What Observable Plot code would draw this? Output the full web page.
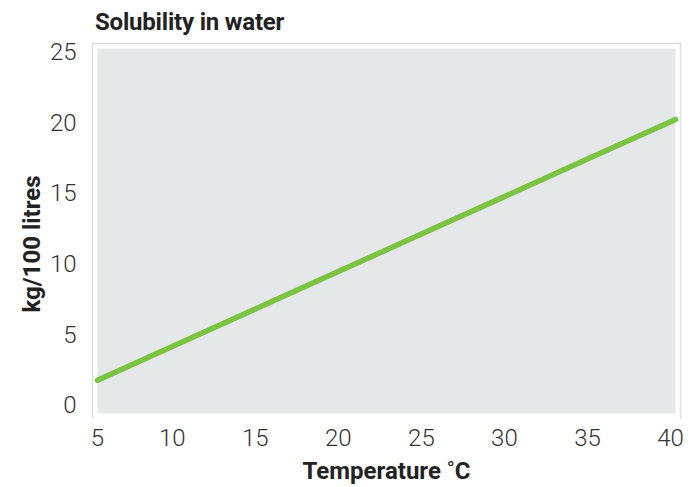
<!DOCTYPE html>
<html>
<head>
<meta charset="utf-8">
<script src="https://cdn.jsdelivr.net/npm/d3@7"></script>
<script src="https://cdn.jsdelivr.net/npm/@observablehq/plot@0.6"></script>
<style>
  html, body { margin: 0; padding: 0; background: #fff; }
  #wrap { width: 696px; height: 487px; position: relative; overflow: hidden; }
  #title { position: absolute; left: 95px; top: 7px; margin: 0; font-family: Roboto, sans-serif; font-weight: 700; font-size: 24px; line-height: 30px; color: #222; letter-spacing: -0.2px; }
  #chart { position: absolute; left: 0; top: 0; }
</style>
</head>
<body>
<div id="wrap">
  <div id="chart"></div>
  <div id="title">Solubility in water</div>
</div>
<script>
const temperature = [5.5, 10, 15, 20, 25, 30, 35, 40, 40.3];
const solubility = [1.78, 4.17, 6.83, 9.48, 12.14, 14.79, 17.45, 20.1, 20.26];
const xTicks = [5, 10, 15, 20, 25, 30, 35, 40];
const yTicks = [0, 5, 10, 15, 20, 25];
const xLabel = "Temperature \u02daC";
const yLabel = "kg/100 litres";

const data = temperature.map((t, i) => ({t, s: solubility[i]}));

const chart = Plot.plot({
  width: 696,
  height: 487,
  marginTop: 48,
  marginBottom: 74,
  marginLeft: 97,
  marginRight: 21,
  style: {fontFamily: "Roboto, sans-serif", fontSize: "24px", color: "#333", background: "#fff"},
  x: {domain: [5.5, 40.3], clamp: true},
  y: {domain: [-0.57, 25.28]},
  marks: [
    Plot.frame({fill: "#e5e8e9"}),
    Plot.frame({anchor: "left", inset: -5, stroke: "#dedede", strokeWidth: 1.5}),
    Plot.frame({anchor: "right", inset: -5, stroke: "#dedede", strokeWidth: 1.5}),
    Plot.frame({anchor: "top", inset: -5, stroke: "#dedede", strokeWidth: 1.5}),
    Plot.axisX({ticks: xTicks, tickSize: 0, tickPadding: 15, label: null, fontSize: 24, fontWeight: 300}),
    Plot.axisY({ticks: yTicks, tickSize: 0, tickPadding: 21, label: null, fontSize: 24, fontWeight: 300}),
    Plot.line(data, {x: "t", y: "s", stroke: "#7dc242", strokeWidth: 5.5}),
    Plot.text([xLabel], {frameAnchor: "bottom", textAnchor: "middle", dy: 65, fontSize: 24, fontWeight: 700, fill: "#222", text: d => d}),
    Plot.text([yLabel], {frameAnchor: "left", textAnchor: "middle", dx: -65, dy: 13, rotate: -90, fontSize: 24, fontWeight: 700, fill: "#222", text: d => d})
  ]
});
document.getElementById("chart").appendChild(chart);
</script>
</body>
</html>
